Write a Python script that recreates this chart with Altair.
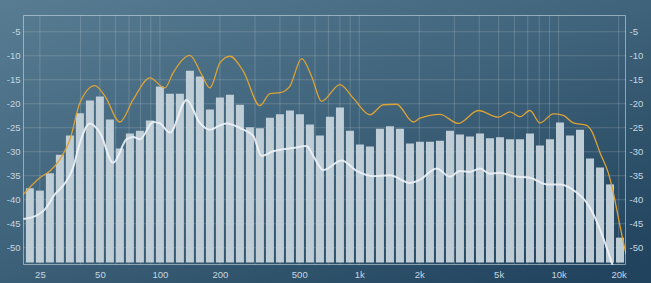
import altair as alt
import pandas as pd

# ---------------- data ----------------
# 1/6-octave band index relative to 100 Hz (categories)
band_k = list(range(-13, 47))
band_level = [-37.6, -38.1, -34.5, -30.6, -26.6, -22.0, -19.3, -18.5, -23.3, -29.3,
              -26.2, -25.6, -23.5, -16.4, -17.9, -17.9, -13.1, -14.3, -21.2, -18.7,
              -18.1, -20.2, -24.9, -25.1, -22.9, -22.2, -21.4, -22.2, -24.3, -26.6,
              -22.7, -20.8, -25.6, -28.5, -28.9, -25.2, -24.7, -25.2, -28.3, -27.9,
              -27.9, -27.7, -25.6, -26.4, -26.8, -26.2, -27.2, -27.0, -27.4, -27.4,
              -26.2, -28.7, -27.4, -23.9, -26.6, -25.4, -31.4, -33.3, -36.8, -47.9]

peak_freq = [20.6, 25, 28.1, 31.5, 35.4, 39.7, 47.2, 53.0, 63.0, 73.5, 89.1, 105.9,
             116.7, 141.4, 161.8, 178.2, 200, 224.5, 261.9, 317.5, 356.4, 400, 449,
             514, 577, 647, 800, 933, 1131, 1320, 1539, 1866, 2016, 2540, 3139, 3955,
             4983, 5702, 6400, 7184, 8063, 9408, 10560, 11850, 13830, 14650, 16130,
             17750, 18810, 20320, 21780]
peak_level = [-38.9, -35.4, -34.0, -31.6, -27.4, -19.8, -16.2, -18.4, -23.8, -19.1,
              -14.6, -16.7, -13.5, -9.9, -13.9, -16.7, -11.5, -10.1, -13.2, -20.4,
              -17.9, -17.7, -16.3, -10.6, -14.3, -19.5, -16.0, -18.8, -22.3, -20.2,
              -20.1, -23.8, -23.0, -22.2, -24.1, -21.4, -22.8, -21.7, -22.7, -21.4,
              -24.0, -22.1, -22.4, -24.0, -24.5, -25.7, -30.2, -34.4, -38.5, -45.5,
              -51.4]

avg_freq = [20.6, 24.0, 26.5, 29.7, 34.0, 36.7, 39.7, 44.5, 50, 58.3, 68.0, 73.5,
            79.4, 92.6, 100, 112.2, 136.1, 158.7, 178.2, 200, 216, 261.9, 294, 324,
            370, 467, 544, 588, 660, 816, 970, 1176, 1425, 1796, 2016, 2444, 2851,
            3200, 3592, 4032, 4525, 5080, 5926, 7184, 8709, 10160, 12320, 13830,
            15520, 17090, 18460, 19860]
avg_level = [-44.0, -43.3, -42.0, -38.9, -36.1, -33.3, -28.1, -24.1, -26.0, -32.3,
             -27.4, -26.9, -27.4, -23.8, -24.1, -26.0, -19.2, -24.0, -25.4, -24.5,
             -24.1, -25.4, -26.7, -30.9, -29.9, -29.2, -28.8, -30.9, -33.8, -31.8,
             -34.0, -35.1, -34.9, -36.5, -35.8, -33.5, -35.2, -34.0, -34.2, -33.5,
             -34.6, -34.4, -35.1, -35.4, -36.8, -36.8, -38.5, -40.6, -44.5, -49.0,
             -53.1, -57.0]

grid_freq = [25, 40, 50, 60, 70, 80, 90, 100, 200, 300, 400, 500, 600, 700, 800, 900,
             1000, 2000, 3000, 4000, 5000, 6000, 7000, 8000, 9000, 10000, 20000]
label_freq = [25, 50, 100, 200, 500, 1000, 2000, 5000, 10000, 20000]
level_ticks = [-5, -10, -15, -20, -25, -30, -35, -40, -45, -50]

# ---------------- chart ----------------
W, H = 603, 250
xscale = alt.Scale(type="log", domain=[20.57, 21776], nice=False)
yscale = alt.Scale(domain=[-53.6, -1.5], nice=False, zero=False)

GRID = "rgba(255,255,255,0.17)"
LABEL = "#c6d6e0"
FONT = "Liberation Sans"

bands = pd.DataFrame({"k": band_k, "level": band_level})
peak = pd.DataFrame({"f": peak_freq, "level": peak_level})
avg = pd.DataFrame({"f": avg_freq, "level": avg_level})
gx = pd.DataFrame({"f": grid_freq})
gy = pd.DataFrame({"v": level_ticks})
one = pd.DataFrame({"a": [0]})

def y_axis(side):
    return alt.Axis(values=level_ticks, title=None, orient=side, labelPadding=3,
                    labelExpr="'' + datum.value", zindex=2, domain=False,
                    ticks=False, grid=False, labelFont=FONT,
                    labelFontSize=9.5, labelColor=LABEL)

x_axis = alt.Axis(values=label_freq, title=None, labelOverlap=False,
                  labelFlush=False, labelPadding=4, zindex=2,
                  domain=False, ticks=False, grid=False,
                  labelFont=FONT, labelFontSize=9.5, labelColor=LABEL,
                  labelExpr="datum.value >= 1000 ? (datum.value / 1000) + 'k' : '' + datum.value")

bg = alt.Chart(one).mark_rect(
    fill=alt.LinearGradient(
        gradient="linear",
        stops=[alt.GradientStop(color="#597d93", offset=0),
               alt.GradientStop(color="#3f637a", offset=0.5),
               alt.GradientStop(color="#21435e", offset=1)],
        x1=0, y1=0, x2=0.8, y2=1),
).encode(x=alt.value(-30), x2=alt.value(640), y=alt.value(-20), y2=alt.value(290))

vgrid = alt.Chart(gx).mark_rule(stroke=GRID, strokeWidth=1).encode(
    x=alt.X("f:Q", scale=xscale, axis=None),
    y=alt.value(0), y2=alt.value(H))

hgrid = alt.Chart(gy).mark_rule(stroke=GRID, strokeWidth=1).encode(
    y=alt.Y("v:Q", scale=yscale, axis=None),
    x=alt.value(0), x2=alt.value(W))

bars = alt.Chart(bands).transform_calculate(
    lo="100 * pow(2, datum.k / 6 - 1 / 15)",
    hi="100 * pow(2, datum.k / 6 + 1 / 15)",
).mark_rect(fill="#c6d3db", opacity=0.95).encode(
    x=alt.X("lo:Q", scale=xscale, axis=x_axis),
    x2="hi:Q",
    y=alt.Y("level:Q", scale=yscale, axis=y_axis("left")),
    y2=alt.datum(-53.1),
)

white = alt.Chart(avg).mark_line(
    color="#eef3f6", strokeWidth=2, opacity=0.9, interpolate="monotone", clip=True
).encode(
    x=alt.X("f:Q", scale=xscale, axis=None),
    y=alt.Y("level:Q", scale=yscale, axis=None),
)

orange = alt.Chart(peak).mark_line(
    color="#dca236", strokeWidth=1.3, interpolate="monotone", clip=True
).encode(
    x=alt.X("f:Q", scale=xscale, axis=None),
    y=alt.Y("level:Q", scale=yscale, axis=y_axis("right")),
)

border = alt.Chart(one).mark_rect(
    filled=False, stroke="rgba(200,218,228,0.6)", strokeWidth=1
).encode(x=alt.value(0.5), x2=alt.value(W - 0.5), y=alt.value(0.5), y2=alt.value(H - 0.5))

chart = alt.layer(bg, vgrid, hgrid, bars, white, orange, border).resolve_axis(
    x="independent", y="independent"
).properties(
    width=W, height=H,
    autosize=alt.AutoSizeParams(type="none"),
    padding={"left": 23, "top": 15, "right": 25, "bottom": 18},
    background="#34576f",
).configure_view(stroke="transparent")

chart.save("out.html", embed_options={"renderer": "svg", "actions": False})
